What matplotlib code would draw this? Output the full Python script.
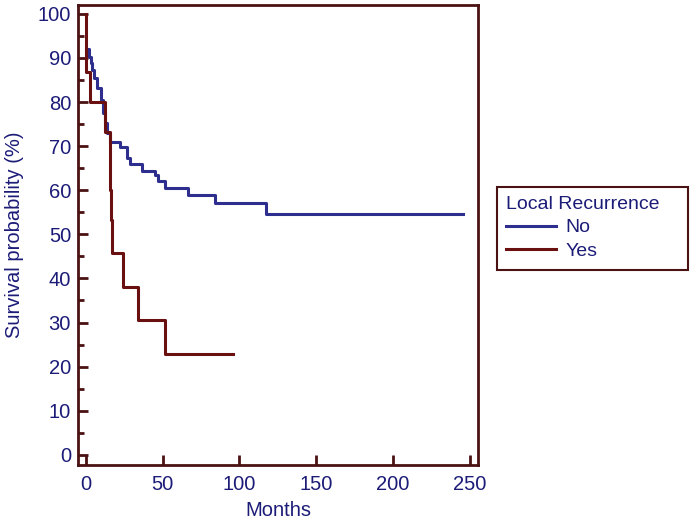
import matplotlib
matplotlib.use("Agg")
import matplotlib.pyplot as plt
from matplotlib.patches import Rectangle
from matplotlib.ticker import MultipleLocator

# Kaplan-Meier steps (months, survival %)
no_t = [0, 2.0, 3.0, 4.2, 5.5, 7.2, 9.8, 11.2, 12.6, 14.0, 15.4,
        22.2, 26.5, 28.7, 36.3, 45.0, 47.1, 51.5, 66.7, 84.1, 117.1, 245.8]
no_s = [92.0, 90.2, 88.9, 87.3, 85.5, 83.2, 80.5, 77.5, 75.3, 73.0, 71.0,
        69.9, 67.4, 66.0, 64.4, 63.5, 62.0, 60.5, 59.0, 57.1, 54.6, 54.6]

yes_t = [0, 0.3, 2.6, 12.4, 15.6, 16.2, 16.7, 24.1, 34.0, 51.5, 95.8]
yes_s = [100, 86.7, 80.0, 73.3, 60.0, 53.3, 45.7, 38.1, 30.5, 22.9, 22.9]

xticks = [0, 50, 100, 150, 200, 250]
yticks = list(range(0, 101, 10))

BLUE = '#2e2e8e'
MAROON = '#6a1010'
FRAME = '#4a1212'
TEXT = '#1c1c78'

plt.rcParams['font.family'] = ['Liberation Sans', 'DejaVu Sans']

W, H = 693, 523
fig = plt.figure(figsize=(W / 100, H / 100), dpi=100)
ax = fig.add_axes([78 / W, 1 - 465 / H, 400 / W, 460 / H])

ax.plot(no_t, no_s, drawstyle='steps-post', color=BLUE, lw=2.2, label='No')
ax.plot(yes_t, yes_s, drawstyle='steps-post', color=MAROON, lw=2.2, label='Yes')

ax.set_xlim(-5.2, 255.5)
ax.set_ylim(-2.3, 102)
ax.set_xticks(xticks)
ax.set_yticks(yticks)
ax.yaxis.set_minor_locator(MultipleLocator(5))

for sp in ax.spines.values():
    sp.set_color(FRAME)
    sp.set_linewidth(2.0)
ax.tick_params(which='major', direction='in', length=7, width=2,
               color=FRAME, labelcolor=TEXT, labelsize=14.5)
ax.tick_params(which='minor', direction='in', length=4, width=2, color=FRAME)
ax.tick_params(axis='x', which='major', pad=7)
ax.tick_params(axis='y', which='major', pad=5)
ax.tick_params(top=False, right=False)

ax.set_xlabel('Months', color=TEXT, fontsize=14.5, labelpad=5)
ax.set_ylabel('Survival probability (%)', color=TEXT, fontsize=14.5, labelpad=10)

# legend without its own frame; frame drawn as a box in figure pixels
leg = ax.legend(title='Local Recurrence', loc='upper left',
                bbox_to_anchor=(490 / W, 1 - 180 / H),
                bbox_transform=fig.transFigure, fontsize=14,
                title_fontsize=14, frameon=False,
                handlelength=2.6, handletextpad=0.5, borderpad=0.3,
                labelspacing=0.32, labelcolor=TEXT)
leg._legend_box.align = 'left'
leg.get_title().set_color(TEXT)

fig.patches.append(Rectangle((497 / W, 1 - 270 / H), 191 / W, 83 / H,
                             transform=fig.transFigure, fill=False,
                             edgecolor=FRAME, linewidth=1.5))

fig.savefig('out.png', dpi=100)
